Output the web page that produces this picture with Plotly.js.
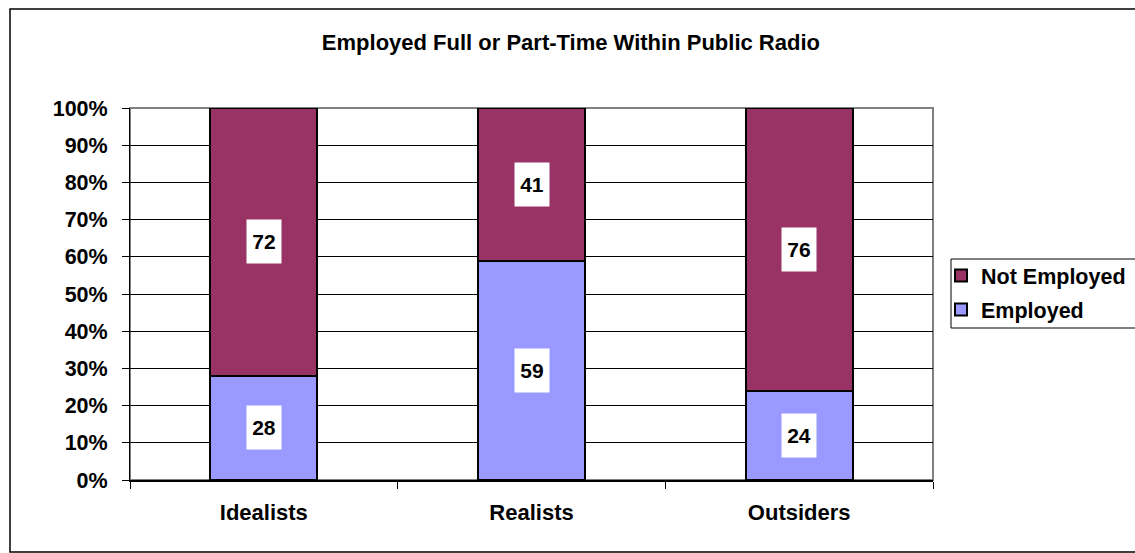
<!DOCTYPE html>
<html>
<head>
<meta charset="utf-8">
<script src="https://cdn.plot.ly/plotly-3.0.1.min.js"></script>
<style>
  html, body { margin: 0; padding: 0; background: #fff; }
  #chart { width: 1135px; height: 553px; }
</style>
</head>
<body>
<div id="chart"></div>
<script>
// Survey groups and their employment split (percent)
const groups = ['Idealists', 'Realists', 'Outsiders'];
const employed = [28, 59, 24];
const notEmployed = [72, 41, 76];
const yTicks = [0, 10, 20, 30, 40, 50, 60, 70, 80, 90, 100];

const FONT = 'Liberation Sans, Arial, sans-serif';
const EMP_COLOR = '#9999FF';
const NOT_COLOR = '#993366';

const traces = [
  {
    type: 'bar', name: 'Employed', x: groups, y: employed,
    legendgroup: 'emp', legendrank: 2,
    marker: { color: EMP_COLOR, line: { color: '#000', width: 2 } },
    hoverinfo: 'none'
  },
  {
    type: 'bar', name: 'Not Employed', x: groups, y: notEmployed,
    legendgroup: 'not', legendrank: 1,
    marker: { color: NOT_COLOR, line: { color: '#000', width: 2 } },
    hoverinfo: 'none'
  }
];

// White value boxes centred in each stacked segment
const annotations = [];
groups.forEach((g, i) => {
  annotations.push({
    x: g, y: employed[i] / 2, xref: 'x', yref: 'y',
    text: '<b>' + employed[i] + '</b>', showarrow: false,
    bgcolor: '#fff', width: 32, height: 41,
    font: { family: FONT, size: 21, color: '#000' }
  });
  annotations.push({
    x: g, y: employed[i] + notEmployed[i] / 2, xref: 'x', yref: 'y',
    text: '<b>' + notEmployed[i] + '</b>', showarrow: false,
    bgcolor: '#fff', width: 32, height: 41,
    font: { family: FONT, size: 21, color: '#000' }
  });
});

const L = 130, R = 933, T = 108, B = 480, W = 1135, H = 553;
const px = v => (v - L) / (R - L);
const py = v => (B - v) / (B - T);

const layout = {
  width: W, height: H,
  margin: { l: L, r: W - R, t: T, b: H - B, pad: 0, autoexpand: false },
  paper_bgcolor: '#fff', plot_bgcolor: '#fff',
  barmode: 'stack', bargap: 0.6,
  font: { family: FONT, color: '#000' },
  title: {
    text: '<b>Employed Full or Part-Time Within Public Radio</b>',
    font: { family: FONT, size: 22, color: '#000' },
    x: 0.503, xanchor: 'center', y: 1 - 42 / H, yanchor: 'middle'
  },
  xaxis: {
    type: 'category', tickson: 'boundaries',
    ticks: 'outside', ticklen: 7, tickcolor: '#000', tickwidth: 1,
    showline: true, linecolor: '#000', linewidth: 2,
    showgrid: false, zeroline: false, automargin: false,
    tickfont: { family: FONT, size: 22, color: '#000', weight: 'bold' },
    ticklabelstandoff: 12
  },
  yaxis: {
    range: [0, 100], tickvals: yTicks, ticktext: yTicks.map(v => v + '%'),
    ticks: 'outside', ticklen: 7, tickcolor: '#000', tickwidth: 1,
    showline: true, linecolor: '#000', linewidth: 1,
    showgrid: true, gridcolor: '#000', gridwidth: 1, zeroline: false,
    automargin: false,
    tickfont: { family: FONT, size: 21.5, color: '#000', weight: 'bold' },
    ticklabelstandoff: 10
  },
  legend: {
    x: px(941), y: py(255), xanchor: 'left', yanchor: 'top',
    traceorder: 'grouped', bgcolor: 'rgba(0,0,0,0)',
    borderwidth: 0,
    font: { family: FONT, size: 21.5, color: '#000', weight: 'bold' },
    itemwidth: 30, tracegroupgap: 3
  },
  showlegend: true,
  annotations: annotations,
  shapes: [
    // plot-area frame (top and right edges)
    { type: 'rect', xref: 'paper', yref: 'paper', x0: 0, x1: 1, y0: 0, y1: 1,
      line: { color: '#808080', width: 2 }, layer: 'below' },
    // legend frame
    { type: 'rect', xref: 'paper', yref: 'paper',
      x0: px(951), x1: px(1150), y0: py(328), y1: py(259),
      fillcolor: '#fff', line: { color: '#000', width: 1 }, layer: 'below' },
    // outer chart border
    { type: 'rect', xref: 'paper', yref: 'paper',
      x0: px(10), x1: px(1150), y0: py(552), y1: py(9),
      line: { color: '#000', width: 1.5 }, layer: 'below' }
  ]
};

Plotly.newPlot('chart', traces, layout, { displayModeBar: false, staticPlot: true });
</script>
</body>
</html>
